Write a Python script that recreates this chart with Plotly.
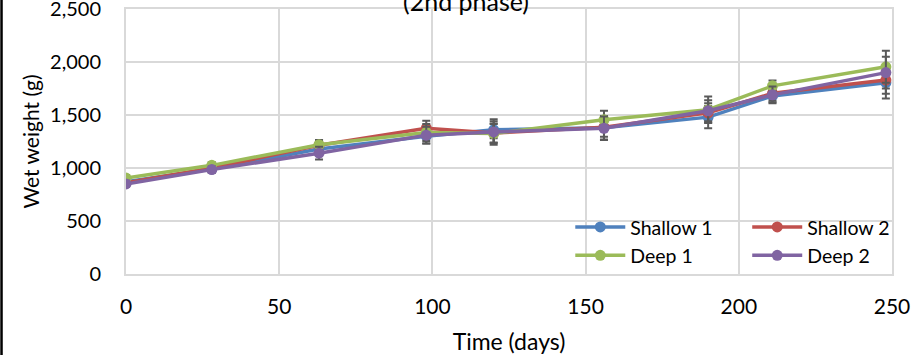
import plotly.graph_objects as go

days = [0, 28, 63, 98, 120, 156, 190, 211, 248]
shallow1 = [870, 990, 1180, 1300, 1360, 1380, 1480, 1680, 1805]
shallow2 = [860, 1000, 1215, 1375, 1330, 1385, 1520, 1705, 1830]
deep1 = [905, 1025, 1220, 1335, 1325, 1455, 1550, 1775, 1955]
deep2 = [850, 985, 1140, 1310, 1340, 1375, 1540, 1690, 1900]
err_s1 = [30, 30, 50, 70, 80, 110, 105, 60, 150]
err_s2 = [30, 30, 50, 70, 90, 90, 90, 70, 130]
err_d1 = [30, 30, 45, 80, 90, 85, 125, 50, 150]
err_d2 = [30, 30, 60, 80, 120, 110, 100, 80, 150]

series = [
    ("Shallow 1", shallow1, err_s1, "#4F81BD", "legend"),
    ("Shallow 2", shallow2, err_s2, "#C0504D", "legend2"),
    ("Deep 1", deep1, err_d1, "#9BBB59", "legend"),
    ("Deep 2", deep2, err_d2, "#8064A2", "legend2"),
]

FONT = "Lato"
fig = go.Figure()
for name, vals, errs, col, lg in series:
    fig.add_trace(go.Scatter(
        x=days, y=vals, name=name, mode="lines+markers",
        line=dict(color=col, width=3.5),
        marker=dict(color=col, size=11),
        error_y=dict(type="data", array=errs, visible=True,
                     color="#595959", thickness=2, width=4),
        legend=lg,
    ))

grid = "#D9D9D9"
fig.update_layout(
    width=913, height=355,
    margin=dict(l=126, r=21, t=9, b=81),
    paper_bgcolor="white", plot_bgcolor="white",
    font=dict(family=FONT, size=20, color="#000000"),
    showlegend=True,
    legend=dict(x=0.58, y=0.25, xanchor="left", yanchor="top", itemwidth=50,
                bgcolor="rgba(0,0,0,0)", font=dict(size=19.5), tracegroupgap=0),
    legend2=dict(x=0.811, y=0.25, xanchor="left", yanchor="top", itemwidth=50,
                 bgcolor="rgba(0,0,0,0)", font=dict(size=19.5), tracegroupgap=0),
    xaxis=dict(range=[0, 250], dtick=50, tick0=0, showgrid=True, gridcolor=grid,
               gridwidth=2, showline=True, linecolor=grid, linewidth=2,
               zeroline=False, ticks="", ticklabelstandoff=13, automargin=False,
               ticklabeloverflow="allow",
               title=dict(text="Time (days)", standoff=18, font=dict(size=23)),
               tickfont=dict(size=21)),
    yaxis=dict(range=[0, 2500], dtick=500, tick0=0, showgrid=True, gridcolor=grid,
               gridwidth=2, showline=True, linecolor=grid, linewidth=2,
               zeroline=False, ticks="", tickformat=",d", ticklabelstandoff=19,
               automargin=False, ticklabeloverflow="allow",
               title=dict(text="Wet weight (g)", standoff=5, font=dict(size=21)),
               tickfont=dict(size=20)),
    annotations=[dict(text="(2nd phase)", x=0.4445, y=1.029, xref="paper", yref="paper",
                      xanchor="center", yanchor="middle", showarrow=False,
                      font=dict(size=25, family=FONT, color="#000000"))],
    shapes=[dict(type="line", xref="paper", yref="paper",
                 x0=-0.1625, x1=-0.1625, y0=-0.4, y1=1.1,
                 line=dict(color="#000000", width=2.5))],
)
fig.update_xaxes(mirror=True)
fig.update_yaxes(mirror=True)

fig.write_html("out.html", config={"displayModeBar": False},
               post_script="document.body.style.margin='0';document.body.style.overflow='hidden';")
